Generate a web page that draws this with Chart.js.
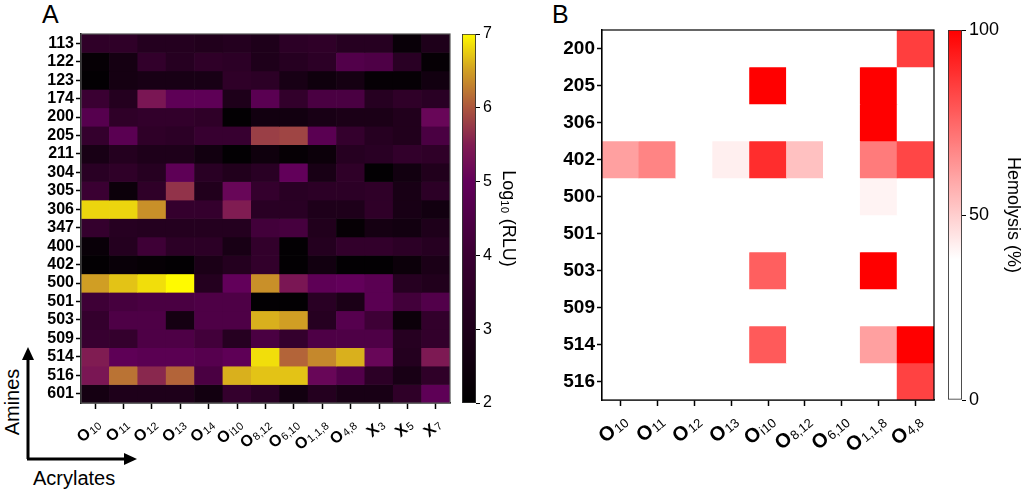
<!DOCTYPE html>
<html>
<head>
<meta charset="utf-8">
<script src="https://cdn.jsdelivr.net/npm/chart.js@4.4.1/dist/chart.umd.min.js"></script>
<style>
  body { margin: 0; background: #fff; width: 1024px; height: 489px; overflow: hidden; position: relative;
         font-family: Arial, "Liberation Sans", sans-serif; color: #000; }
  .box { position: absolute; top: 0; height: 489px; }
  .txt { position: absolute; white-space: nowrap; line-height: 1; }
</style>
</head>
<body>
<div class="txt" style="left:42px;top:2px;font-size:25px">A</div>
<div class="txt" style="left:552px;top:2px;font-size:25px">B</div>
<div class="txt" style="left:12px;top:402px;font-size:20px;transform:translate(-50%,-50%) rotate(-90deg)">Amines</div>
<div class="txt" style="left:33px;top:468px;font-size:20px">Acrylates</div>
<svg style="position:absolute;left:0;top:0" width="160" height="489">
  <path d="M28 459 L28 358 M27 459 L126 459" stroke="#000" stroke-width="3" fill="none"/>
  <path d="M28 347 L22 360 L34 360 Z" fill="#000"/>
  <path d="M137 459 L124 453 L124 465 Z" fill="#000"/>
</svg>

<div class="box" style="left:0;width:460px"><canvas id="heatA"></canvas></div>
<div class="box" style="left:455px;width:68px"><canvas id="barA"></canvas></div>
<div class="box" style="left:510px;width:440px"><canvas id="heatB"></canvas></div>
<div class="box" style="left:940px;width:84px"><canvas id="barB"></canvas></div>

<script>
// ---- data ----
const amines = ['113','122','123','174','200','205','211','304','305','306','347','400','402','500','501','503','509','514','516','601'];
// "base_subscript"
const acrylatesA = ['O_10','O_11','O_12','O_13','O_14','O_i10','O_8,12','O_6,10','O_1,1,8','O_4,8','X_3','X_5','X_7'];
// log10(RLU), one row per amine, one column per acrylate
const rlu = [
  [3.6,3.6,3.2,3.2,3.1,3.2,3.0,3.5,3.6,3.3,3.3,2.3,3.0],
  [2.2,2.7,3.7,3.3,3.6,3.5,3.0,3.3,3.5,4.6,4.5,3.4,2.2],
  [2.1,2.7,2.8,2.8,2.8,3.6,3.5,2.8,2.5,2.7,2.2,2.2,2.6],
  [4.0,3.2,5.4,4.9,4.9,3.0,4.8,3.7,4.4,4.4,3.3,3.6,3.4],
  [4.7,3.6,3.7,3.7,3.6,2.1,2.6,2.6,2.8,2.9,2.9,3.1,5.1],
  [3.8,4.8,3.6,3.5,3.9,3.9,5.8,5.85,4.8,3.8,3.3,3.1,4.4],
  [2.8,3.2,3.0,3.0,2.6,2.1,2.5,2.2,2.4,3.3,3.4,3.7,3.6],
  [3.4,3.6,3.3,4.9,3.4,3.1,3.4,5.0,2.8,3.6,2.1,2.6,3.1],
  [4.0,2.4,3.6,5.7,3.1,5.1,3.8,3.4,3.5,3.5,3.6,2.8,3.5],
  [6.8,6.8,6.4,3.8,3.8,5.5,3.4,3.4,3.0,3.0,3.6,2.8,2.6],
  [3.8,3.3,3.2,3.2,3.2,3.2,4.2,4.3,3.1,2.2,2.7,2.6,3.0],
  [2.3,3.2,4.1,3.5,3.5,2.8,3.7,2.1,3.2,3.7,3.7,3.5,3.3],
  [2.1,2.3,2.2,2.1,2.9,3.2,3.7,2.1,2.6,2.1,2.1,2.4,2.9],
  [6.5,6.7,6.85,7.0,3.2,5.0,6.4,5.4,4.9,5.0,4.8,3.3,3.1],
  [4.1,4.3,4.4,4.4,4.5,4.5,2.1,2.1,3.4,2.9,4.8,4.2,4.6],
  [3.8,4.5,4.5,2.7,4.5,4.5,6.6,6.5,3.3,4.7,4.1,2.4,3.7],
  [3.9,3.8,4.5,4.5,4.2,3.3,4.4,3.8,4.5,4.5,4.5,3.3,3.7],
  [5.5,4.9,4.8,4.8,4.7,4.9,6.85,6.1,6.35,6.6,5.1,3.2,5.45],
  [5.4,6.2,5.6,6.1,4.4,6.6,6.7,6.7,5.1,4.6,3.5,2.8,3.6],
  [2.7,3.0,3.0,3.0,2.6,3.8,3.4,2.6,3.2,2.8,2.8,3.6,4.9]
];
const rluTicks = [2, 3, 4, 5, 6, 7];

const aminesB = ['200','205','306','402','500','501','503','509','514','516'];
const acrylatesB = ['O_10','O_11','O_12','O_13','O_i10','O_8,12','O_6,10','O_1,1,8','O_4,8'];
// hemolysis %, one row per amine
const hemolysis = [
  [0,0,0,0,0,0,0,0,85],
  [0,0,0,0,100,0,0,100,0],
  [0,0,0,0,0,0,0,100,0],
  [61,68,0,42,89,53,0,70,83],
  [0,0,0,0,0,0,0,41,0],
  [0,0,0,0,0,0,0,0,0],
  [0,0,0,0,77,0,0,100,0],
  [0,0,0,0,0,0,0,0,0],
  [0,0,0,0,78,0,0,61,100],
  [0,0,0,0,0,0,0,0,84]
];
const hemoTicks = [0, 50, 100];

// ---- colour maps ----
const magmaStops = [
  [2.0, [0, 0, 0]], [3.0, [30, 0, 26]], [4.0, [58, 0, 50]], [5.0, [98, 0, 90]],
  [5.5, [128, 28, 82]], [6.0, [172, 86, 62]], [6.5, [208, 158, 36]], [7.0, [255, 250, 0]]
];
function rluColor(v) {
  if (v <= magmaStops[0][0]) return 'rgb(0,0,0)';
  for (let i = 1; i < magmaStops.length; i++) {
    const [v1, c1] = magmaStops[i];
    if (v <= v1) {
      const [v0, c0] = magmaStops[i - 1];
      const t = (v - v0) / (v1 - v0);
      return 'rgb(' + c0.map((c, k) => Math.round(c + (c1[k] - c) * t)).join(',') + ')';
    }
  }
  return 'rgb(255,250,0)';
}
const HEMO_WHITE = 38;
function hemoColor(v) {
  const t = Math.max(0, Math.min(1, (v - HEMO_WHITE) / (100 - HEMO_WHITE)));
  const g = Math.round(255 * (1 - t));
  return `rgb(255,${g},${g})`;
}

const FONT = 'Arial, "Liberation Sans", sans-serif';
Chart.defaults.font.family = FONT;
Chart.defaults.color = '#000';
Chart.defaults.animation = false;
Chart.defaults.plugins.legend.display = false;
Chart.defaults.plugins.tooltip.enabled = false;

const frame = {
  id: 'frame',
  afterDraw(chart, args, opts) {
    const a = chart.chartArea, c = chart.ctx;
    c.save();
    c.strokeStyle = opts.color; c.lineWidth = opts.width;
    c.strokeRect(a.left, a.top, a.right - a.left, a.bottom - a.top);
    c.restore();
  }
};

// x labels: big bold letter + small subscript, rotated, ending at the tick
const subLabels = {
  id: 'subLabels',
  afterDraw(chart, args, o) {
    const s = chart.scales.x, c = chart.ctx;
    const rot = -40 * Math.PI / 180;
    c.save();
    c.fillStyle = '#000';
    c.textAlign = 'right';
    c.textBaseline = 'alphabetic';
    s.ticks.forEach((t, i) => {
      const [base, sub] = chart.data.labels[i].split('_');
      c.save();
      c.translate(s.getPixelForTick(i) + o.dx, s.top + o.dy);
      c.rotate(rot);
      const y = o.base * 0.36;
      c.font = `${o.sub}px ${FONT}`;
      const w = c.measureText(sub).width;
      c.fillText(sub, 0, y + 1);
      c.font = `bold ${o.base}px ${FONT}`;
      c.fillText(base, -w - 1, y);
      c.restore();
    });
    c.restore();
  }
};

function heatDatasets(rows, values, colorFn) {
  return rows.map((r, i) => ({
    label: r,
    data: values[i].map(() => [i - 0.5, i + 0.5]),
    backgroundColor: values[i].map(colorFn),
    borderWidth: 0,
    barPercentage: 1, categoryPercentage: 1, grouped: false
  }));
}

function heatOptions(rows, pad, yWidth, xHeight, yFont, labelOpts, frameColor) {
  return {
    responsive: true, maintainAspectRatio: false, devicePixelRatio: 1,
    layout: { padding: pad },
    plugins: { frame: { color: frameColor, width: 1.2 }, subLabels: labelOpts },
    scales: {
      x: {
        grid: { drawOnChartArea: false, offset: false, tickLength: 6, tickColor: '#000', tickWidth: 1.5 },
        border: { color: '#000', width: 1.5 },
        ticks: { display: false },
        afterFit: s => { s.height = xHeight; }
      },
      y: {
        type: 'linear', reverse: true, min: -0.5, max: rows.length - 0.5,
        afterBuildTicks: s => { s.ticks = rows.map((_, i) => ({ value: i })); },
        grid: { drawOnChartArea: false, tickLength: 5, tickColor: '#000', tickWidth: 1.5 },
        border: { color: '#000', width: 1.5 },
        ticks: { autoSkip: false, callback: v => rows[v], font: { size: yFont, weight: 'bold' }, color: '#000', padding: 2 },
        afterFit: s => { s.width = yWidth; }
      }
    }
  };
}

// Panel A heatmap
new Chart(document.getElementById('heatA'), {
  type: 'bar',
  data: { labels: acrylatesA, datasets: heatDatasets(amines, rlu, rluColor) },
  options: heatOptions(amines, { top: 34, right: 10, left: 0, bottom: 0 }, 81, 86, 16,
    { base: 16, sub: 11, dx: 3, dy: 19 }, '#555'),
  plugins: [frame, subLabels]
});

// Panel B heatmap
new Chart(document.getElementById('heatB'), {
  type: 'bar',
  data: { labels: acrylatesB, datasets: heatDatasets(aminesB, hemolysis, hemoColor) },
  options: heatOptions(aminesB, { top: 30, right: 16, left: 0, bottom: 0 }, 92, 89, 19,
    { base: 20, sub: 13, dx: 4, dy: 18 }, '#000'),
  plugins: [frame, subLabels]
});

// colour bars
function colorBar(el, ticks, colorFn, title, pad, yWidth, font, titleFont) {
  const lo = ticks[0], hi = ticks[ticks.length - 1];
  new Chart(el, {
    type: 'bar',
    data: {
      labels: [''],
      datasets: [{
        data: [[lo, hi]],
        backgroundColor: ctx => {
          const a = ctx.chart.chartArea;
          if (!a) return '#fff';
          const g = ctx.chart.ctx.createLinearGradient(0, a.bottom, 0, a.top);
          for (let i = 0; i <= 50; i++) g.addColorStop(i / 50, colorFn(lo + (hi - lo) * i / 50));
          return g;
        },
        borderColor: '#333', borderWidth: 1.2, borderSkipped: false,
        barPercentage: 1, categoryPercentage: 1
      }]
    },
    options: {
      responsive: true, maintainAspectRatio: false, devicePixelRatio: 1,
      layout: { padding: pad },
      scales: {
        x: { display: false },
        y: {
          position: 'right', min: lo, max: hi,
          afterBuildTicks: s => { s.ticks = ticks.map(v => ({ value: v })); },
          grid: { drawOnChartArea: false, tickLength: 4, tickColor: '#000' },
          border: { display: false },
          ticks: { font: { size: font }, color: '#000', padding: 3 },
          title: { display: true, text: title, font: { size: titleFont }, color: '#000', padding: { top: 0, bottom: 0 } },
          afterFit: s => { s.width = yWidth; }
        }
      }
    }
  });
}
colorBar(document.getElementById('barA'), rluTicks, rluColor, 'Log₁₀ (RLU)', { left: 7, top: 34, bottom: 86, right: 4 }, 43, 16, 18);
colorBar(document.getElementById('barB'), hemoTicks, hemoColor, 'Hemolysis (%)', { left: 8, top: 30, bottom: 89, right: 0 }, 62, 18, 18);
</script>
</body>
</html>
